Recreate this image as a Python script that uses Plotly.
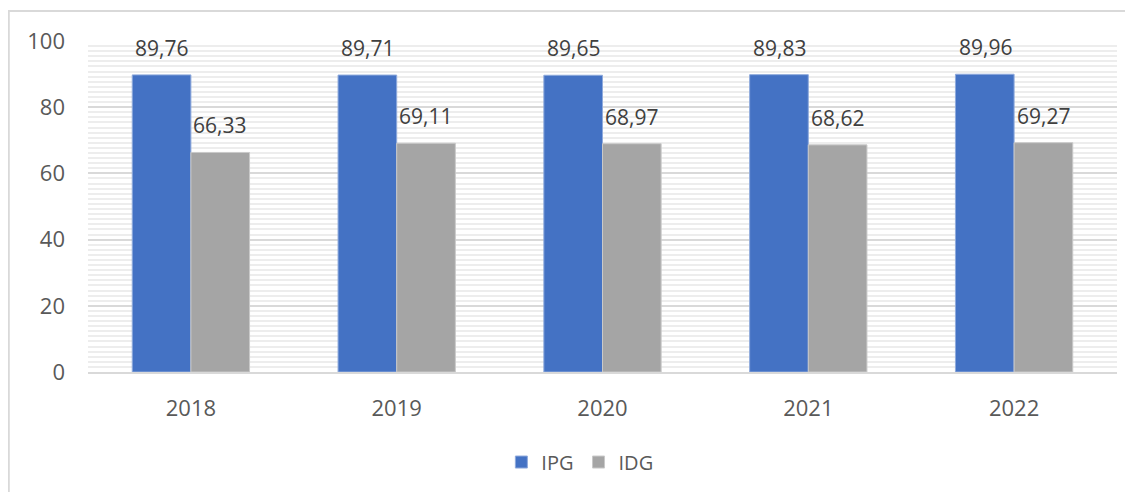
import plotly.graph_objects as go

years = ["2018", "2019", "2020", "2021", "2022"]
ipg = [89.76, 89.71, 89.65, 89.83, 89.96]
idg = [66.33, 69.11, 68.97, 68.62, 69.27]
ipg_labels = ["89,76", "89,71", "89,65", "89,83", "89,96"]
idg_labels = ["66,33", "69,11", "68,97", "68,62", "69,27"]

BLUE = "#4472C4"
GRAY = "#A5A5A5"
TXT = "#595959"
FONT = "Open Sans"

fig = go.Figure()
fig.add_trace(go.Bar(name="IPG", x=years, y=ipg, marker=dict(color=BLUE, line=dict(color="#8FAADC", width=1))))
fig.add_trace(go.Bar(name="IDG", x=years, y=idg, marker=dict(color=GRAY, line=dict(color="#C9C9C9", width=1))))

annotations = []
for i, (v, t) in enumerate(zip(ipg, ipg_labels)):
    annotations.append(dict(x=i, y=v, text=t, xref="x", yref="y", showarrow=False,
                            xshift=-29, yshift=11, yanchor="bottom",
                            font=dict(family=FONT, size=21, color="#404040")))
for i, (v, t) in enumerate(zip(idg, idg_labels)):
    annotations.append(dict(x=i, y=v, text=t, xref="x", yref="y", showarrow=False,
                            xshift=29, yshift=11, yanchor="bottom",
                            font=dict(family=FONT, size=21, color="#404040")))

fig.update_layout(
    width=1133, height=492,
    margin=dict(l=80, r=24, t=33, b=128),
    paper_bgcolor="white", plot_bgcolor="white",
    barmode="group", bargap=0.43, bargroupgap=0,
    font=dict(family=FONT, size=20, color=TXT),
    showlegend=True,
    legend=dict(orientation="h", x=0.478, xanchor="center", y=-0.272, yanchor="middle",
                font=dict(family=FONT, size=20, color=TXT), itemwidth=30, traceorder="normal"),
    annotations=annotations,
    shapes=[dict(type="rect", xref="paper", yref="paper", x0=-0.077, x1=1.06, y0=-0.6, y1=1.0906,
                 line=dict(color="#D9D9D9", width=2), fillcolor="rgba(0,0,0,0)", layer="below")],
)
fig.update_xaxes(type="category", range=[-0.5, 4.5], showgrid=False, showline=True, linecolor="#D9D9D9", linewidth=2,
                 ticks="", ticklabelstandoff=16, tickfont=dict(family=FONT, size=22, color=TXT))
fig.update_yaxes(range=[0, 100], dtick=20, showgrid=True, gridcolor="#D9D9D9", gridwidth=2,
                 zeroline=False, showline=False, ticks="", ticklabelstandoff=22,
                 tickfont=dict(family=FONT, size=22, color=TXT),
                 minor=dict(dtick=20/13, showgrid=True, gridcolor="#EDEDED", gridwidth=2))

fig.write_html("out.html")
